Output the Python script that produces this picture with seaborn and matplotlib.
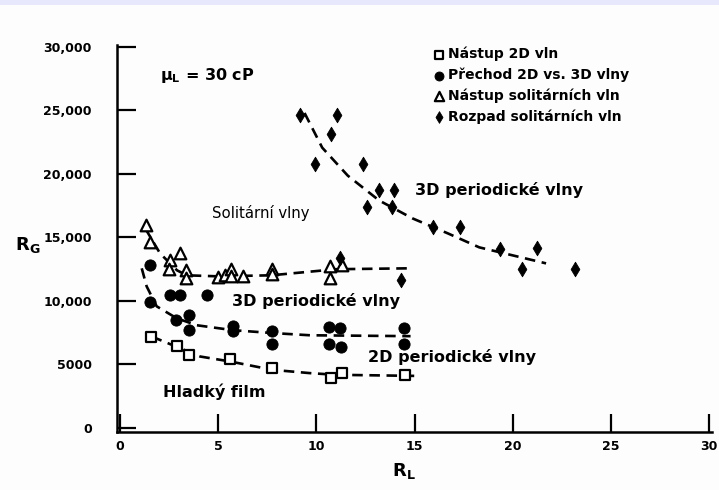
import matplotlib
matplotlib.use("Agg")
import matplotlib.pyplot as plt
import seaborn as sns
import pandas as pd
from matplotlib.patches import Rectangle

# ---- data ----
sq_x = [1.58, 2.89, 3.52, 5.6, 7.76, 10.73, 11.29, 14.52]
sq_y = [7170, 6470, 5730, 5420, 4740, 3900, 4340, 4140]

ci_x = [1.53, 1.53, 2.55, 3.06, 4.42, 2.84, 3.52, 3.52, 5.77, 5.77, 7.73, 7.73,
        10.66, 11.2, 10.66, 11.24, 14.49, 14.49]
ci_y = [12860, 9920, 10500, 10500, 10500, 8540, 8880, 7700, 8010, 7620, 7620, 6600,
        7960, 7910, 6650, 6390, 7910, 6600]

tr_x = [1.31, 1.53, 2.55, 3.06, 2.51, 3.36, 3.36, 4.99, 5.35, 5.65, 5.65, 6.27,
        7.74, 7.74, 10.7, 11.3, 10.7]
tr_y = [16000, 14640, 13200, 13750, 12490, 12410, 11780, 11860, 12020, 12490, 11940,
        11940, 12490, 12100, 12730, 12800, 11810]

di_x = [9.17, 11.05, 10.75, 9.93, 12.38, 13.19, 13.96, 12.58, 13.86, 15.95, 17.32,
        19.36, 21.24, 20.48, 23.18, 14.32, 11.2]
di_y = [24670, 24670, 23170, 20820, 20820, 18700, 18770, 17360, 17360, 15790, 15790,
        14060, 14140, 12490, 12490, 11630, 13350]

# dashed trend curves
sq_cx = [1.62, 2.89, 4.08, 5.6, 7.76, 9.68, 11.0, 15.1]
sq_cy = [7200, 6390, 5630, 5240, 4580, 4320, 4190, 4100]

ci_cx = [1.11, 1.36, 1.87, 2.89, 3.91, 5.76, 7.73, 9.68, 14.8]
ci_cy = [12570, 11150, 9580, 8640, 8090, 7700, 7480, 7300, 7230]

tr_cx = [1.27, 2.04, 2.91, 3.41, 5.0, 7.7, 11.0, 14.7]
tr_cy = [15760, 13750, 12410, 12020, 11940, 12020, 12500, 12570]

di_cx = [9.4, 10.3, 11.6, 13.2, 14.9, 16.7, 18.3, 20.0, 21.7]
di_cy = [24800, 22070, 19870, 17910, 16500, 15320, 14220, 13590, 12960]

xticks = [0, 5, 10, 15, 20, 25, 30]
yticks = [0, 5000, 10000, 15000, 20000, 25000, 30000]
ytick_labels = ["0", "5000", "10,000", "15,000", "20,000", "25,000", "30,000"]

labels = ["Nástup 2D vln", "Přechod 2D vs. 3D vlny", "Nástup solitárních vln",
          "Rozpad solitárních vln"]

sns.set_style("ticks")
plt.rcParams["font.family"] = ["DejaVu Sans"]
for k in ["text.color", "axes.labelcolor", "xtick.color", "ytick.color", "axes.edgecolor"]:
    plt.rcParams[k] = "black"

fig = plt.figure(figsize=(7.19, 4.90), dpi=100, facecolor="#fdfdfd")
fig.patches.append(Rectangle((0, 1 - 5 / 490), 1, 5 / 490, transform=fig.transFigure,
                             facecolor="#e8e8fc", edgecolor="none", zorder=0))
ax = fig.add_axes([117 / 719, 58 / 490, 595 / 719, 387 / 490])
ax.set_facecolor("#fdfdfd")

dash = dict(color="black", lw=1.9, linestyle=(0, (4, 2.5)), sort=False, ax=ax, legend=False)
sns.lineplot(x=sq_cx, y=sq_cy, **dash)
sns.lineplot(x=ci_cx, y=ci_cy, **dash)
sns.lineplot(x=tr_cx, y=tr_cy, **dash)
sns.lineplot(x=di_cx, y=di_cy, **dash)

sns.scatterplot(x=sq_x, y=sq_y, marker="s", s=55, facecolor="white", edgecolor="black",
                linewidth=1.6, ax=ax, label=labels[0], zorder=3)
sns.scatterplot(x=ci_x, y=ci_y, marker="o", s=65, color="black", edgecolor="black",
                ax=ax, label=labels[1], zorder=3)
sns.scatterplot(x=tr_x, y=tr_y, marker="^", s=70, facecolor="white", edgecolor="black",
                linewidth=1.6, ax=ax, label=labels[2], zorder=3)
sns.scatterplot(x=di_x, y=di_y, marker="d", s=55, color="black", edgecolor="black",
                ax=ax, label=labels[3], zorder=3)

ax.set_xlim(-0.15, 30.15)
ax.set_ylim(-314, 30150)
ax.set_xticks(xticks)
ax.set_xticklabels([str(t) for t in xticks], fontsize=9, fontweight="bold")
ax.set_yticks(yticks)
ax.set_yticklabels(ytick_labels, fontsize=9, fontweight="bold")
ax.tick_params(axis="y", direction="in", length=14, width=1.6, pad=18)
ax.tick_params(axis="x", direction="in", length=13, width=1.6, pad=6)
for s in ["top", "right"]:
    ax.spines[s].set_visible(False)
for s in ["left", "bottom"]:
    ax.spines[s].set_linewidth(1.8)

ax.set_xlabel(r"$\mathbf{R_L}$", fontsize=13)
ax.set_ylabel(r"$\mathbf{R_G}$", fontsize=13, rotation=0)
ax.xaxis.set_label_coords(0.482, -0.075)
ax.yaxis.set_label_coords(-0.150, 0.457)

tk = dict(fontsize=11.5, fontweight="bold", va="center", ha="left")
ax.text(2.04, 27730, r"$\mathbf{\mu_L}$ = 30 cP", **tk)
ax.text(4.69, 16890, "Solitární vlny", fontsize=10.7, va="center", ha="left")
ax.text(15.03, 18700, "3D periodické vlny", **tk)
ax.text(5.71, 9980, "3D periodické vlny", **tk)
ax.text(12.63, 5580, "2D periodické vlny", **tk)
ax.text(2.19, 2830, "Hladký film", **tk)

leg = ax.legend(loc="upper left", bbox_to_anchor=(0.51, 1.02), frameon=False,
                prop=dict(size=10, weight="bold"), handletextpad=0.1,
                labelspacing=0.45, borderpad=0.2, handlelength=1.2, markerscale=0.8)

fig.savefig("out.png", dpi=100, facecolor=fig.get_facecolor())
